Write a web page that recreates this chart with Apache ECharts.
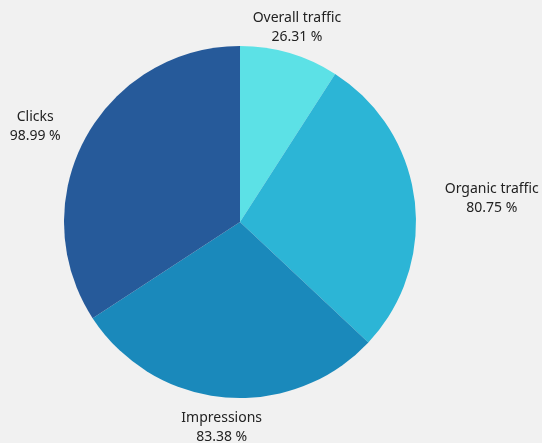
<!DOCTYPE html>
<html><head><meta charset="utf-8">
<script src="https://cdn.jsdelivr.net/npm/echarts@6/dist/echarts.min.js"></script>
<style>html,body{margin:0;padding:0;background:#f1f1f1;}#c{width:542px;height:443px;}</style>
</head><body><div id="c"></div>
<script>
const categories = ["Overall traffic", "Organic traffic", "Impressions", "Clicks"];
const values = [26.31, 80.75, 83.38, 98.99];
const colors = ["#5ce1e6", "#2cb5d6", "#1a89bb", "#265a9a"];
const labelOffsets = [[-53, -8], [4, 0], [50, 12], [1, -3]];

const chart = echarts.init(document.getElementById('c'));
chart.setOption({
  backgroundColor: '#f1f1f1',
  animation: false,
  series: [{
    type: 'pie',
    center: [240, 222],
    radius: 176,
    startAngle: 90,
    clockwise: true,
    data: categories.map((n, i) => ({ name: n, value: values[i], itemStyle: { color: colors[i] } })),
    label: {
      show: true,
      position: 'outside',
      overflow: 'none',
      formatter: p => '{a|' + p.name + '}\n{a|' + p.value.toFixed(2) + ' %}',
      rich: { a: { align: 'center', fontSize: 14, lineHeight: 19, color: '#222', fontFamily: 'Noto Sans' } },
      fontFamily: 'Noto Sans',
      color: '#222'
    },
    labelLine: { show: false, length: 18, length2: 6 },
    labelLayout: p => ({ dx: labelOffsets[p.dataIndex][0], dy: labelOffsets[p.dataIndex][1] })
  }]
});
</script></body></html>
